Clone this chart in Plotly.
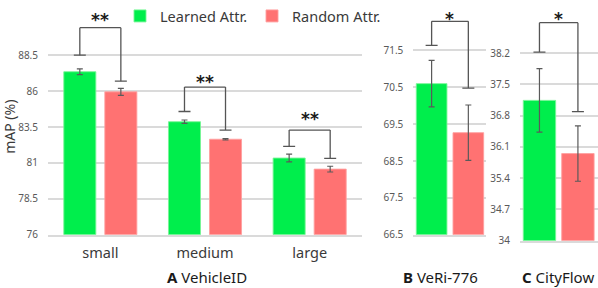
import plotly.graph_objects as go

# ---------------- data ----------------
categories_A = ["small", "medium", "large"]
learned_A = [87.35, 83.87, 81.34]
learned_A_err = [0.20, 0.12, 0.27]
random_A = [85.95, 82.65, 80.57]
random_A_err = [0.24, 0.05, 0.20]
sig_A_left = [88.50, 84.58, 82.15]
sig_A_top = [90.42, 86.28, 83.29]
sig_A_right = [86.69, 83.29, 81.32]
sig_A_label = ["**", "**", "**"]
ticks_A = [76, 78.5, 81, 83.5, 86, 88.5]

categories_B = ["VeRi-776"]
learned_B = [70.60]
learned_B_err = [0.63]
random_B = [69.27]
random_B_err = [0.75]
sig_B_left = [71.64]
sig_B_top = [72.29]
sig_B_right = [70.48]
sig_B_label = ["*"]
ticks_B = [66.5, 67.5, 68.5, 69.5, 70.5, 71.5]

categories_C = ["CityFlow"]
learned_C = [37.14]
learned_C_err = [0.71]
random_C = [35.95]
random_C_err = [0.62]
sig_C_left = [38.22]
sig_C_top = [38.88]
sig_C_right = [36.89]
sig_C_label = ["*"]
ticks_C = [34, 34.7, 35.4, 36.1, 36.8, 37.5, 38.2]

series_names = ["Learned Attr.", "Random Attr."]
panel_titles = ["<b>A</b> VehicleID", "<b>B</b> VeRi-776", "<b>C</b> CityFlow"]

# ---------------- style ----------------
W, H = 598, 288
GREEN = "#00EE4C"
RED = "#FF7272"
GREEN_EDGE = "rgba(120,245,150,0.9)"
RED_EDGE = "rgba(255,160,160,0.9)"
GRID = "#DADADA"
ERR = "#5A5A5A"
BR = "#555555"
FONT = "Noto Sans"

def px_x(p):
    return p / W

def px_y(p):
    return 1 - p / H

panels = [
    dict(cats=categories_A, g=learned_A, ge=learned_A_err, r=random_A, re=random_A_err,
         sl=sig_A_left, st=sig_A_top, sr=sig_A_right, lab=sig_A_label, ticks=ticks_A,
         xdom=(48, 362), ybot=240.6, ppu=14.72, goff=-0.349, roff=0.043, bw=0.306,
         star_px=[17, 80, 118.3], showcat=True, title_x=207),
    dict(cats=categories_B, g=learned_B, ge=learned_B_err, r=random_B, re=random_B_err,
         sl=sig_B_left, st=sig_B_top, sr=sig_B_right, lab=sig_B_label, ticks=ticks_B,
         xdom=(413.3, 486.3), ybot=240.7, ppu=37.8, goff=-0.459, roff=0.044, bw=0.42,
         star_px=[15], showcat=False, title_x=440.5),
    dict(cats=categories_C, g=learned_C, ge=learned_C_err, r=random_C, re=random_C_err,
         sl=sig_C_left, st=sig_C_top, sr=sig_C_right, lab=sig_C_label, ticks=ticks_C,
         xdom=(520, 598), ybot=246.7, ppu=45.8, goff=-0.458, roff=0.035, bw=0.415,
         star_px=[15], showcat=False, title_x=558.3),
]

TOP_PX = 20
fig = go.Figure()
shapes = []
annotations = []

for i, p in enumerate(panels):
    k = "" if i == 0 else str(i + 1)
    xa, ya = "x" + k, "y" + k
    lo = p["ticks"][0]
    hi = lo + (p["ybot"] - TOP_PX) / p["ppu"]
    n = len(p["cats"])
    for name, vals, errs, col, edge, off in [
        (series_names[0], p["g"], p["ge"], GREEN, GREEN_EDGE, p["goff"]),
        (series_names[1], p["r"], p["re"], RED, RED_EDGE, p["roff"]),
    ]:
        fig.add_trace(go.Bar(
            x=p["cats"], y=[v - lo for v in vals], base=lo, name=name,
            offset=off, width=p["bw"],
            marker=dict(color=col, line=dict(color=edge, width=1)),
            error_y=dict(type="data", array=errs, color=ERR, thickness=1.2, width=3),
            xaxis=xa, yaxis=ya, showlegend=(i == 0), legendgroup=name,
        ))
    dom_x = [px_x(p["xdom"][0]), px_x(p["xdom"][1])]
    dom_y = [px_y(p["ybot"]), px_y(TOP_PX)]
    fig.layout["xaxis" + k] = dict(
        domain=dom_x, anchor=ya, type="category", range=[-0.5, n - 0.5],
        showgrid=False, showline=True, linecolor=GRID, linewidth=1.5,
        showticklabels=p["showcat"], ticks="", ticklabelstandoff=4,
        tickfont=dict(size=14.5, color="#3A3A3A", family=FONT), fixedrange=True,
    )
    fig.layout["yaxis" + k] = dict(
        domain=dom_y, anchor=xa, range=[lo, hi],
        tickvals=p["ticks"], ticktext=[f"{t:g}" for t in p["ticks"]],
        showgrid=True, gridcolor=GRID, gridwidth=1.5, zeroline=False, showline=False,
        ticks="", ticklabelstandoff=9,
        tickfont=dict(size=10, color="#595959", family=FONT), fixedrange=True,
    )
    # significance brackets
    unit_px = (p["xdom"][1] - p["xdom"][0]) / n
    cap = 6 / unit_px
    gc = p["goff"] + p["bw"] / 2
    rc = p["roff"] + p["bw"] / 2
    for j in range(n):
        xl, xr = j + gc, j + rc
        segs = [
            (xl, p["sl"][j], xl, p["st"][j]),
            (xl, p["st"][j], xr, p["st"][j]),
            (xr, p["st"][j], xr, p["sr"][j]),
            (xl - cap, p["sl"][j], xl + cap, p["sl"][j]),
            (xr - cap, p["sr"][j], xr + cap, p["sr"][j]),
        ]
        for x0, y0, x1, y1 in segs:
            shapes.append(dict(type="line", xref=xa, yref=ya, x0=x0, y0=y0, x1=x1, y1=y1,
                               line=dict(color=BR, width=1.3)))
        annotations.append(dict(
            xref=xa, yref="paper", x=(xl + xr) / 2, y=px_y(p["star_px"][j] + 4),
            text="<b>" + p["lab"][j] + "</b>", showarrow=False, yanchor="middle",
            font=dict(size=17, color="#1A1A1A", family="DejaVu Sans"),
        ))
    annotations.append(dict(
        xref="paper", yref="paper", x=px_x(p["title_x"]), y=px_y(283.5),
        text=panel_titles[i], showarrow=False, xanchor="center", yanchor="middle",
        font=dict(size=15, color="#1A1A1A", family=FONT),
    ))

annotations.append(dict(
    xref="paper", yref="paper", x=px_x(10), y=px_y(130), text="mAP (%)",
    textangle=-90, showarrow=False, xanchor="center", yanchor="middle",
    font=dict(size=14, color="#3A3A3A", family=FONT),
))

fig.update_layout(
    width=W, height=H, margin=dict(l=0, r=0, t=0, b=0),
    paper_bgcolor="white", plot_bgcolor="white",
    barmode="overlay", shapes=shapes, annotations=annotations,
    showlegend=True,
    legend=dict(orientation="h", x=px_x(120), y=1, xanchor="left", yanchor="top",
                font=dict(size=14.5, color="#3A3A3A", family=FONT),
                bgcolor="rgba(0,0,0,0)", itemclick=False, itemdoubleclick=False),
    font=dict(family=FONT),
)

fig.write_html("out.html", config={"displayModeBar": False},
               post_script="document.body.style.margin='0px';")
